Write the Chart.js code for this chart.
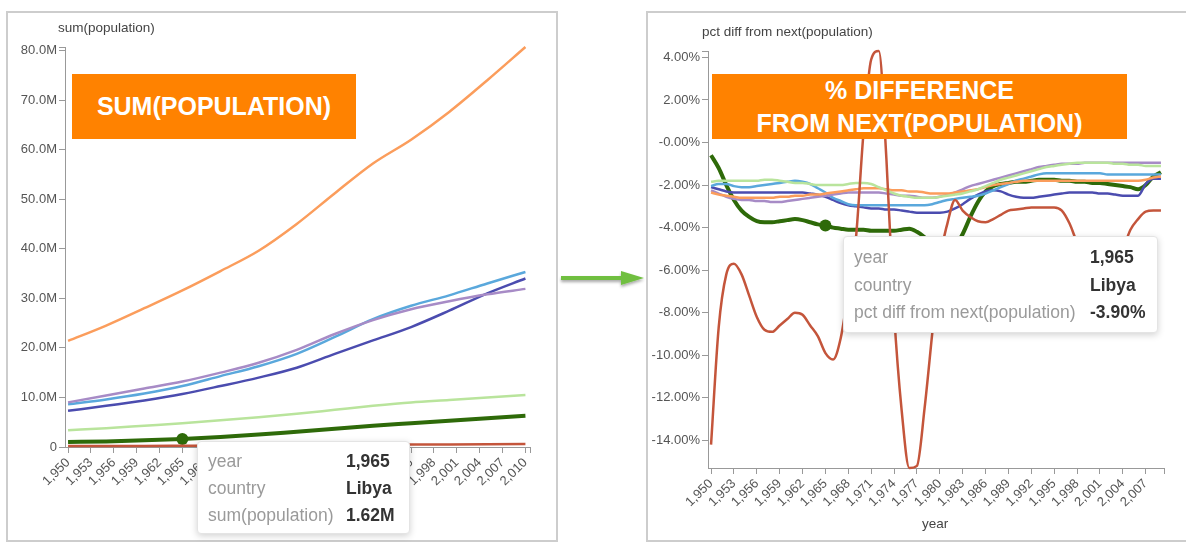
<!DOCTYPE html>
<html>
<head>
<meta charset="utf-8">
<script src="https://cdn.jsdelivr.net/npm/chart.js@4.4.1/dist/chart.umd.min.js"></script>
<style>
  body { margin: 0; width: 1186px; height: 542px; background: #fff; position: relative; overflow: hidden;
         font-family: "Liberation Sans", Arial, sans-serif; }
  .panel { position: absolute; border: 2px solid #cdcdcd; box-sizing: border-box; }
  #panelSum { left: 6px; top: 11px; width: 552px; height: 531px; }
  #panelPct { left: 646px; top: 11px; width: 560px; height: 531px; }
  canvas { position: absolute; }
  #sumChart { left: 7px; top: 12px; }
  #pctChart { left: 647px; top: 12px; }
  .axisTitle { position: absolute; font-size: 13.5px; color: #444; white-space: nowrap; }
  .banner { position: absolute; background: #ff8200; color: #fff; font-weight: bold; font-size: 25px;
            text-align: center; display: flex; align-items: center; justify-content: center; line-height: 33px; }
  .tip { position: absolute; background: #fff; border: 1px solid #e4e4e4; border-radius: 4px;
         box-shadow: 0 2px 7px rgba(0,0,0,0.18); font-size: 17.5px; }
  .tip span { position: absolute; white-space: nowrap; line-height: 20px; }
  .tip .lbl { color: #9a9a9a; }
  .tip .val { color: #333; font-weight: bold; }
  #arrow { position: absolute; left: 555px; top: 264px; }
</style>
</head>
<body>
<div class="panel" id="panelSum"></div>
<div class="panel" id="panelPct"></div>
<canvas id="sumChart" width="550" height="528"></canvas>
<canvas id="pctChart" width="539" height="528"></canvas>

<div class="axisTitle" style="left:58px; top:20px;">sum(population)</div>
<div class="axisTitle" style="left:284px; top:516px;">year</div>
<div class="axisTitle" style="left:702px; top:24px;">pct diff from next(population)</div>
<div class="axisTitle" style="left:922px; top:516px;">year</div>

<div class="banner" style="left:72px; top:74px; width:284px; height:65px;">SUM(POPULATION)</div>
<div class="banner" style="left:712px; top:74px; width:415px; height:65px;">% DIFFERENCE<br>FROM NEXT(POPULATION)</div>

<svg id="arrow" width="95" height="30">
  <defs>
    <filter id="sh" x="-10%" y="-50%" width="120%" height="200%">
      <feDropShadow dx="0" dy="2" stdDeviation="1.5" flood-color="#000" flood-opacity="0.35"/>
    </filter>
  </defs>
  <g filter="url(#sh)">
    <line x1="6" y1="14" x2="70" y2="14" stroke="#6fbf3f" stroke-width="4"/>
    <polygon points="66,7 89,14 66,21" fill="#6fbf3f"/>
  </g>
</svg>

<div class="tip" id="tipSum" style="left:197px; top:441px; width:211px; height:91px;"></div>
<div class="tip" id="tipPct" style="left:843px; top:236px; width:313px; height:95px;"></div>

<script>
// sum(population), millions, every 5 years
const popYears = [1950, 1955, 1960, 1965, 1970, 1975, 1980, 1985, 1990, 1995, 2000, 2005, 2010];
const popOrange     = [21.4, 24.5, 28.0, 31.6, 35.5, 39.6, 45.0, 51.2, 57.2, 62.0, 67.6, 74.0, 80.7];
const popLightBlue  = [8.6, 9.6, 10.8, 12.3, 14.3, 16.3, 18.8, 22.2, 25.8, 28.5, 30.6, 33.0, 35.3];
const popPurple     = [9.0, 10.4, 11.8, 13.2, 15.0, 17.0, 19.6, 22.8, 25.6, 27.8, 29.4, 30.8, 31.9];
const popDarkBlue   = [7.3, 8.3, 9.4, 10.7, 12.3, 14.0, 16.0, 18.8, 21.5, 24.2, 27.5, 31.0, 34.0];
const popLightGreen = [3.4, 3.8, 4.3, 4.8, 5.4, 6.0, 6.7, 7.5, 8.3, 9.0, 9.5, 10.0, 10.5];
const popLibya      = [1.03, 1.13, 1.34, 1.62, 2.0, 2.5, 3.1, 3.7, 4.3, 4.8, 5.3, 5.8, 6.3];
const popRed        = [0.18, 0.2, 0.22, 0.25, 0.28, 0.32, 0.36, 0.4, 0.44, 0.48, 0.52, 0.56, 0.6];

// pct diff from next(population), %, yearly
const pctYears = [1950, 1951, 1952, 1953, 1954, 1955, 1956, 1957, 1958, 1959,
                  1960, 1961, 1962, 1963, 1964, 1965, 1966, 1967, 1968, 1969,
                  1970, 1971, 1972, 1973, 1974, 1975, 1976, 1977, 1978, 1979,
                  1980, 1981, 1982, 1983, 1984, 1985, 1986, 1987, 1988, 1989,
                  1990, 1991, 1992, 1993, 1994, 1995, 1996, 1997, 1998, 1999,
                  2000, 2001, 2002, 2003, 2004, 2005, 2006, 2007, 2008, 2009];
const pctRed = [-14.2, -8.7, -6.2, -5.7, -6.2, -7.2, -8.2, -8.8, -8.9, -8.6,
                -8.3, -8.0, -8.1, -8.6, -9.1, -9.9, -10.2, -9.2, -7.0, -4.5,
                0.5, 3.9, 4.3, -0.8, -8.0, -12.6, -15.3, -15.2, -12.5, -9.0,
                -5.5, -3.8, -2.7, -3.2, -3.5, -3.7, -3.75, -3.6, -3.4, -3.2,
                -3.15, -3.1, -3.05, -3.05, -3.05, -3.05, -3.2, -3.8, -4.7, -5.4,
                -5.7, -5.8, -5.7, -5.4, -5.0, -4.1, -3.6, -3.25, -3.2, -3.2];
const pctLibya = [-0.6, -1.2, -2.0, -2.7, -3.2, -3.5, -3.7, -3.75, -3.75, -3.7,
                  -3.65, -3.6, -3.65, -3.75, -3.85, -3.9, -4.0, -4.05, -4.1, -4.1,
                  -4.1, -4.15, -4.15, -4.15, -4.15, -4.1, -4.05, -4.2, -4.45, -4.8,
                  -5.0, -5.1, -4.9, -4.3, -3.5, -2.8, -2.3, -2.05, -1.95, -1.9,
                  -1.85, -1.85, -1.8, -1.75, -1.75, -1.75, -1.8, -1.8, -1.85, -1.85,
                  -1.9, -1.9, -1.95, -2.0, -2.05, -2.1, -2.2, -2.0, -1.6, -1.4];
const pctLightGreen = [-1.85, -1.8, -1.8, -1.8, -1.8, -1.8, -1.8, -1.75, -1.75, -1.8,
                       -1.85, -1.9, -1.9, -1.95, -2.0, -2.0, -2.0, -2.0, -1.95, -1.9,
                       -1.9, -1.95, -2.1, -2.25, -2.4, -2.5, -2.55, -2.6, -2.6, -2.6,
                       -2.55, -2.5, -2.45, -2.4, -2.3, -2.2, -2.05, -1.9, -1.75, -1.65,
                       -1.55, -1.45, -1.35, -1.25, -1.15, -1.1, -1.05, -1.0, -0.95, -0.95,
                       -0.95, -0.95, -0.95, -1.0, -1.0, -1.05, -1.05, -1.1, -1.1, -1.1];
const pctLightBlue = [-2.05, -1.95, -1.95, -2.05, -2.1, -2.1, -2.05, -2.0, -1.95, -1.9,
                      -1.85, -1.8, -1.85, -1.95, -2.15, -2.35, -2.6, -2.75, -2.9, -2.95,
                      -2.95, -2.95, -2.95, -2.95, -2.95, -2.95, -2.95, -2.95, -2.95, -2.9,
                      -2.8, -2.7, -2.65, -2.6, -2.55, -2.5, -2.4, -2.25, -2.1, -1.95,
                      -1.8, -1.7, -1.6, -1.5, -1.45, -1.45, -1.45, -1.45, -1.45, -1.45,
                      -1.45, -1.45, -1.5, -1.5, -1.5, -1.5, -1.5, -1.5, -1.5, -1.5];
const pctDarkBlue = [-2.1, -2.2, -2.3, -2.35, -2.35, -2.35, -2.35, -2.35, -2.35, -2.35,
                     -2.35, -2.35, -2.35, -2.4, -2.45, -2.55, -2.7, -2.85, -2.95, -3.0,
                     -3.05, -3.1, -3.1, -3.15, -3.15, -3.2, -3.25, -3.3, -3.3, -3.3,
                     -3.3, -3.25, -3.1, -2.9, -2.65, -2.45, -2.3, -2.25, -2.3, -2.45,
                     -2.55, -2.6, -2.6, -2.55, -2.5, -2.45, -2.4, -2.35, -2.35, -2.35,
                     -2.35, -2.4, -2.4, -2.45, -2.5, -2.5, -2.5, -1.95, -1.7, -1.7];
const pctOrange = [-2.35, -2.45, -2.5, -2.55, -2.6, -2.6, -2.6, -2.6, -2.6, -2.55,
                   -2.55, -2.5, -2.5, -2.45, -2.45, -2.4, -2.35, -2.3, -2.25, -2.2,
                   -2.15, -2.15, -2.15, -2.2, -2.25, -2.25, -2.3, -2.3, -2.35, -2.4,
                   -2.4, -2.4, -2.35, -2.3, -2.25, -2.2, -2.1, -2.0, -1.95, -1.9,
                   -1.85, -1.8, -1.8, -1.8, -1.8, -1.8, -1.8, -1.8, -1.8, -1.8,
                   -1.8, -1.8, -1.8, -1.8, -1.8, -1.8, -1.8, -1.75, -1.65, -1.6];
const pctPurple = [-2.25, -2.4, -2.55, -2.65, -2.7, -2.7, -2.75, -2.75, -2.8, -2.8,
                   -2.75, -2.7, -2.65, -2.6, -2.55, -2.5, -2.45, -2.4, -2.35, -2.35,
                   -2.35, -2.35, -2.35, -2.4, -2.45, -2.5, -2.5, -2.55, -2.6, -2.6,
                   -2.55, -2.45, -2.35, -2.2, -2.05, -1.95, -1.85, -1.75, -1.65, -1.55,
                   -1.45, -1.35, -1.25, -1.15, -1.1, -1.05, -1.0, -1.0, -1.0, -0.95,
                   -0.95, -0.95, -0.95, -0.95, -0.95, -0.95, -0.95, -0.95, -0.95, -0.95];

// axis ticks
const sumYearTicks = [1950, 1953, 1956, 1959, 1962, 1965, 1968, 1971, 1974, 1977, 1980,
                      1983, 1986, 1989, 1992, 1995, 1998, 2001, 2004, 2007, 2010];
const pctYearTicks = [1950, 1953, 1956, 1959, 1962, 1965, 1968, 1971, 1974, 1977,
                      1980, 1983, 1986, 1989, 1992, 1995, 1998, 2001, 2004, 2007];
const sumValueTicks = [0, 10, 20, 30, 40, 50, 60, 70, 80];
const pctValueTicks = [-14, -12, -10, -8, -6, -4, -2, 0, 2, 4];

const hoverYear = 1965;
const hoverCountry = "Libya";

const COLORS = {
  orange: "#fb9d5c", lightBlue: "#5aa8dc", purple: "#a78bc6", darkBlue: "#4b4caf",
  lightGreen: "#b9e49c", libya: "#2e6a09", red: "#c4553b"
};

const FONT = { family: "'Liberation Sans', Arial, sans-serif", size: 13 };
const fmtYear = v => Number(v).toLocaleString("en-US");

function series(xs, ys, color, width) {
  return {
    data: xs.map((x, i) => ({ x: x, y: ys[i] })),
    borderColor: color,
    backgroundColor: color,
    borderWidth: width,
    pointRadius: 0,
    cubicInterpolationMode: "monotone",
    clip: 6
  };
}

function withDot(ds, xs) {
  ds.pointRadius = xs.map(x => x === hoverYear ? 6 : 0);
  ds.pointBackgroundColor = ds.borderColor;
  ds.pointBorderWidth = 0;
  return ds;
}

function axisLine() {
  return {
    grid: { display: true, drawOnChartArea: false, drawTicks: true, tickLength: 6, color: "#999", lineWidth: 1 },
    border: { display: true, color: "#999", width: 1 }
  };
}

function buildChart(canvas, cfg) {
  return new Chart(canvas, {
    type: "line",
    data: { datasets: cfg.datasets },
    options: {
      responsive: false,
      animation: false,
      devicePixelRatio: 1,
      events: [],
      layout: { padding: { left: 0, top: cfg.padTop, right: cfg.padRight, bottom: 0 } },
      plugins: { legend: { display: false }, tooltip: { enabled: false } },
      scales: {
        x: Object.assign(axisLine(), {
          type: "linear",
          min: cfg.xMin,
          max: cfg.xMax,
          afterBuildTicks: s => { s.ticks = cfg.xTicks.concat([cfg.xMax]).map(v => ({ value: v })); },
          afterFit: s => { s.height = cfg.xHeight; },
          ticks: {
            autoSkip: false, minRotation: 45, maxRotation: 45, padding: 2,
            color: "#555", font: FONT,
            callback: v => cfg.xTicks.includes(v) ? fmtYear(v) : ""
          }
        }),
        y: Object.assign(axisLine(), {
          min: cfg.yMin,
          max: cfg.yMax,
          afterBuildTicks: s => { s.ticks = cfg.yTicks.concat([cfg.yMax]).map(v => ({ value: v })); },
          afterFit: s => { s.width = cfg.yWidth; },
          ticks: {
            autoSkip: false, padding: 2, color: "#555", font: FONT,
            callback: v => cfg.yTicks.includes(v) ? cfg.yFmt(v) : ""
          }
        })
      }
    }
  });
}

// left: sum(population)
const sumDatasets = [
  series(popYears, popRed, COLORS.red, 2.5),
  series(popYears, popLightGreen, COLORS.lightGreen, 2.5),
  series(popYears, popPurple, COLORS.purple, 2.5),
  series(popYears, popLightBlue, COLORS.lightBlue, 2.5),
  series(popYears, popDarkBlue, COLORS.darkBlue, 2.5),
  series(popYears, popOrange, COLORS.orange, 2.5),
  withDot(series(popYears, popLibya, COLORS.libya, 4), popYears)
];

buildChart(document.getElementById("sumChart"), {
  datasets: sumDatasets,
  xMin: 1949.6, xMax: 2010.6, xTicks: sumYearTicks, xHeight: 93,
  yMin: 0, yMax: 80.7, yTicks: sumValueTicks, yWidth: 58,
  yFmt: v => v === 0 ? "0" : v.toFixed(1) + "M",
  padTop: 35, padRight: 27
});

// right: pct diff from next(population)
const pctDatasets = [
  series(pctYears, pctRed, COLORS.red, 2.5),
  series(pctYears, pctLightGreen, COLORS.lightGreen, 2.5),
  series(pctYears, pctOrange, COLORS.orange, 2.5),
  series(pctYears, pctPurple, COLORS.purple, 2.5),
  series(pctYears, pctLightBlue, COLORS.lightBlue, 2.5),
  series(pctYears, pctDarkBlue, COLORS.darkBlue, 2.5),
  withDot(series(pctYears, pctLibya, COLORS.libya, 4), pctYears)
];

buildChart(document.getElementById("pctChart"), {
  datasets: pctDatasets,
  xMin: 1949.6, xMax: 2009.4, xTicks: pctYearTicks, xHeight: 72,
  yMin: -15.3, yMax: 4.3, yTicks: pctValueTicks, yWidth: 61,
  yFmt: v => (v === 0 ? "-0.00" : v.toFixed(2)) + "%",
  padTop: 39, padRight: 22
});

// hover cards for Libya, 1965
function fillTip(id, rows, valueLeft, rowTops) {
  const el = document.getElementById(id);
  rows.forEach((r, i) => {
    const l = document.createElement("span");
    l.className = "lbl";
    l.textContent = r[0];
    l.style.left = "10px";
    l.style.top = rowTops[i] + "px";
    const v = document.createElement("span");
    v.className = "val";
    v.textContent = r[1];
    v.style.left = valueLeft + "px";
    v.style.top = rowTops[i] + "px";
    el.appendChild(l);
    el.appendChild(v);
  });
}

const sumIdx = popYears.indexOf(hoverYear);
const pctIdx = pctYears.indexOf(hoverYear);
fillTip("tipSum", [
  ["year", fmtYear(hoverYear)],
  ["country", hoverCountry],
  ["sum(population)", popLibya[sumIdx].toFixed(2) + "M"]
], 148, [9, 36, 63]);
fillTip("tipPct", [
  ["year", fmtYear(hoverYear)],
  ["country", hoverCountry],
  ["pct diff from next(population)", pctLibya[pctIdx].toFixed(2) + "%"]
], 246, [10, 38, 65]);
</script>
</body>
</html>
